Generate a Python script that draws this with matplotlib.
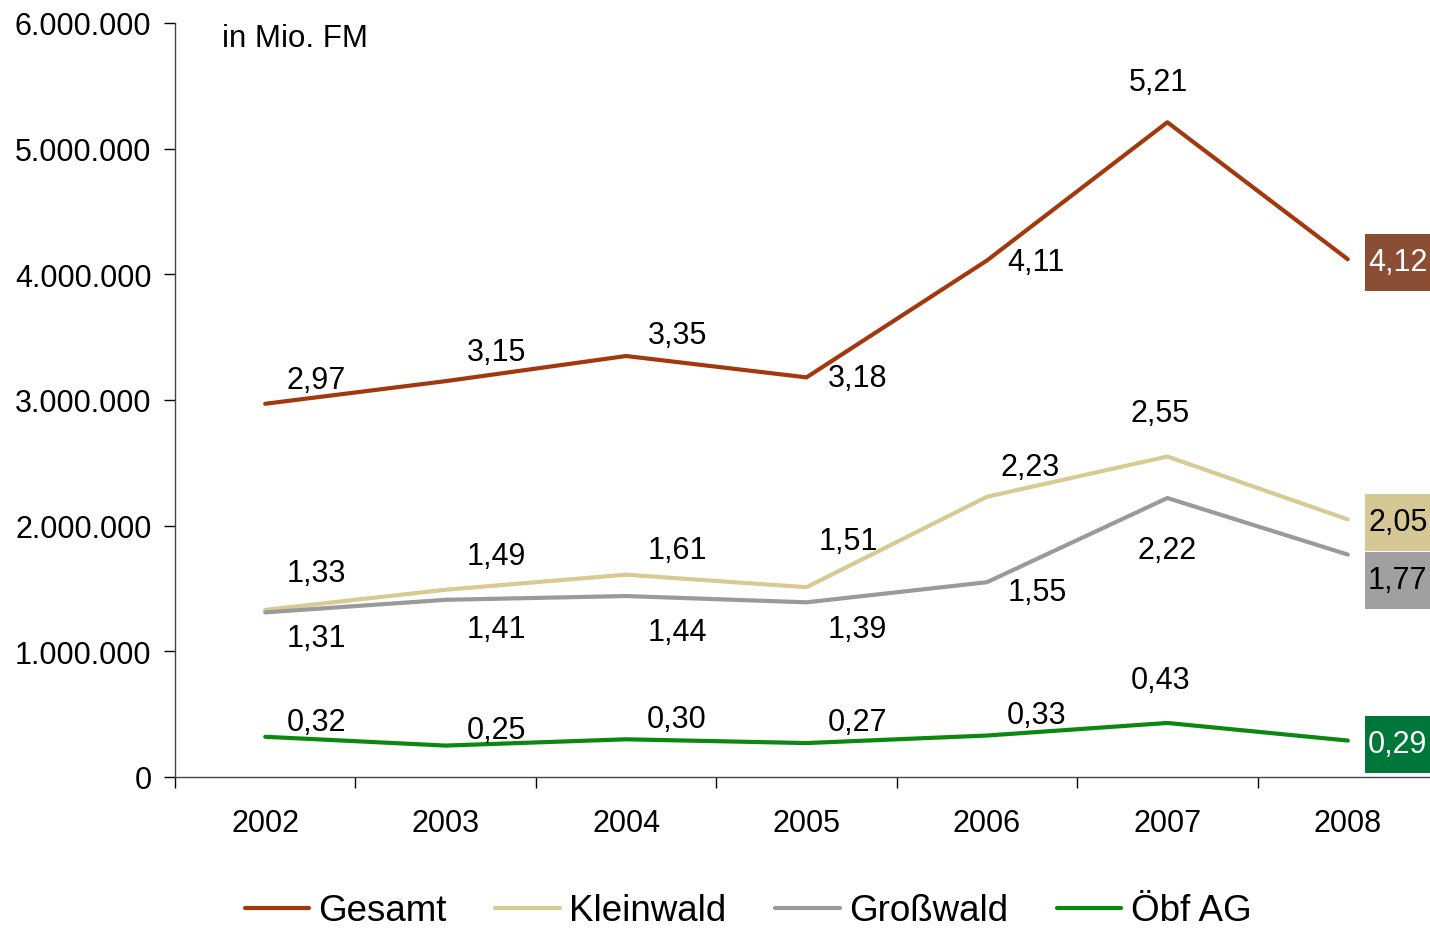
import matplotlib.pyplot as plt
import matplotlib.ticker as mticker
from matplotlib.patches import Rectangle
import numpy as np

plt.rcParams['font.family'] = ['Liberation Sans', 'DejaVu Sans']

years = ['2002', '2003', '2004', '2005', '2006', '2007', '2008']
series_names = ['Gesamt', 'Kleinwald', 'Großwald', 'Öbf AG']

# Einschlag in Mio. FM
gesamt = [2.97, 3.15, 3.35, 3.18, 4.11, 5.21, 4.12]
kleinwald = [1.33, 1.49, 1.61, 1.51, 2.23, 2.55, 2.05]
grosswald = [1.31, 1.41, 1.44, 1.39, 1.55, 2.22, 1.77]
oebf = [0.32, 0.25, 0.30, 0.27, 0.33, 0.43, 0.29]

line_colors = ['#A2390E', '#D7CA93', '#9A9A9A', '#0A880F']
box_colors = ['#8B4E34', '#D5C895', '#A0A0A0', '#00773A']
box_text = ['white', 'black', 'black', 'white']

# label offsets in pixels (dx, dy) for 2002..2007
offsets = [
    [(51, 24), (51, 29), (51, 21), (51, -1), (49, -1), (-9, 40)],
    [(51, 37), (51, 34), (51, 25), (42, 46), (43, 30), (-7, 44)],
    [(51, -26), (51, -29), (51, -36), (51, -27), (50, -10), (0, -52)],
    [(51, 15), (51, 16), (51, 20), (51, 21), (50, 21), (-7, 43)],
]
# downward shift (pixels) of the end-value boxes
box_shift = [3, 3, 25.5, 3.5]

W, H = 1430, 929
fig = plt.figure(figsize=(W / 100, H / 100), dpi=100)
ax = fig.add_axes([175 / W, 151 / H, 1263 / W, 754 / H])
ax.set_xlim(-0.5, 6.5)
ax.set_ylim(0, 6e6)

px_x = 1263 / 7.0       # pixels per category
px_y = 754 / 6e6        # pixels per unit

x = np.arange(len(years))
all_series = [gesamt, kleinwald, grosswald, oebf]
for k, (vals, name, col, offs) in enumerate(zip(all_series, series_names,
                                                line_colors, offsets)):
    yv = np.array(vals) * 1e6
    ax.plot(x, yv, color=col, lw=3, label=name, solid_capstyle='round')
    for i in range(len(vals) - 1):
        ax.annotate(f'{vals[i]:.2f}'.replace('.', ','), (x[i], yv[i]),
                    xytext=offs[i], textcoords='offset pixels',
                    ha='center', va='center', fontsize=22)
    # end value box
    cy = yv[-1] - box_shift[k] / px_y
    ax.add_patch(Rectangle((x[-1] + 17 / px_x, cy - 28.5 / px_y), 0.6, 57 / px_y,
                           fc=box_colors[k], ec='none', clip_on=False, zorder=3))
    ax.text(x[-1] + 50 / px_x, cy, f'{vals[-1]:.2f}'.replace('.', ','),
            ha='center', va='center', fontsize=22, color=box_text[k], zorder=4)

ax.set_yticks(np.arange(0, 6.1e6, 1e6))
ax.yaxis.set_major_formatter(mticker.FuncFormatter(lambda v, p: f'{int(v):,}'.replace(',', '.')))
ax.set_xticks(np.arange(-0.5, 7, 1))
ax.set_xticklabels([''] * 8)
ax.set_xticks(x, minor=True)
ax.set_xticklabels(years, minor=True)
ax.tick_params(axis='x', which='major', direction='out', length=8, width=1)
ax.tick_params(axis='x', which='minor', length=0, pad=22, labelsize=22)
ax.tick_params(axis='y', direction='out', length=8, width=1, pad=9, labelsize=22)
for s in ['top', 'right']:
    ax.spines[s].set_visible(False)
for s in ['left', 'bottom']:
    ax.spines[s].set_linewidth(1)
    ax.spines[s].set_color('#444444')

ax.text(47 / 1263, (778 - 39) / 754, 'in Mio. FM', transform=ax.transAxes,
        fontsize=22.5, ha='left', va='center')

fig.legend(loc='center', ncol=4, frameon=False, fontsize=26.5,
           handlelength=1.75, columnspacing=1.33, handletextpad=0.25,
           borderpad=0.2, bbox_to_anchor=(0.523, 17 / H))

fig.savefig('out.png', dpi=100)
